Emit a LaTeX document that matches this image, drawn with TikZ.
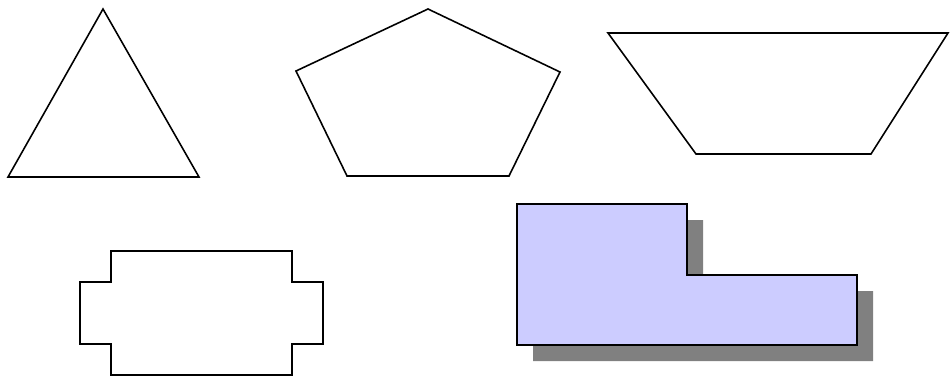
\documentclass[tikz,border=0pt]{standalone}
\usepackage{xcolor}
\usepackage{tikz}
\definecolor{lilac}{HTML}{CCCCFF}
\definecolor{shadowgray}{HTML}{808080}
\tikzset{figline/.style={line width=0.9pt,line join=miter}}

\begin{document}
\begin{tikzpicture}[x=0.02cm,y=-0.02cm]
\useasboundingbox (0,0) rectangle (950,376);
% triangle
\draw[figline] (103,9)--(199,177)--(8,177)--cycle;
% pentagon
\draw[figline] (428,9)--(560,72)--(509,176)--(347,176)--(296,71)--cycle;
% trapezoid
\draw[figline] (608,33)--(948,33)--(871,154)--(696,154)--cycle;
% cross
\draw[figline] (111,251)--(292,251)--(292,282)--(323,282)--(323,344)--(292,344)
  --(292,375)--(111,375)--(111,344)--(80,344)--(80,282)--(111,282)--cycle;
% L shape with shadow
\fill[shadowgray] (533,220)--(703,220)--(703,291)--(873,291)--(873,361)--(533,361)--cycle;
\filldraw[figline,fill=lilac] (517,204)--(687,204)--(687,275)--(857,275)--(857,345)--(517,345)--cycle;
\end{tikzpicture}
\end{document}
